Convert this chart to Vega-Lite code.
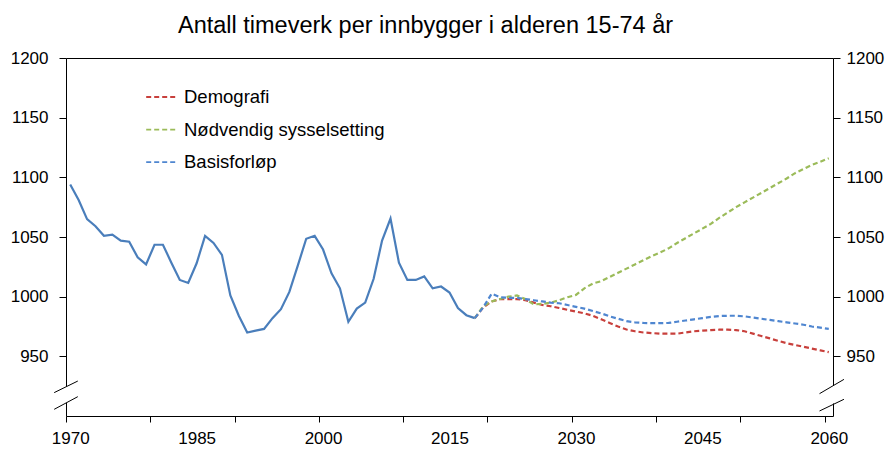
{
  "$schema": "https://vega.github.io/schema/vega-lite/v6.json",
  "width": 767,
  "height": 358,
  "autosize": "none",
  "padding": {"left": 66, "top": 58, "right": 60, "bottom": 34},
  "background": "white",
  "config": {
    "font": "Liberation Sans",
    "view": {"stroke": null},
    "axis": {"grid": false, "title": null, "domainColor": "black", "tickColor": "black", "labelColor": "black", "labelFont": "Liberation Sans", "labelFontSize": 17, "domainWidth": 1, "tickWidth": 1}
  },
  "title": {
    "text": "Antall timeverk per innbygger i alderen 15-74 år",
    "font": "Liberation Sans",
    "fontSize": 23.5,
    "fontWeight": "normal",
    "color": "black",
    "anchor": "middle",
    "frame": "group",
    "baseline": "alphabetic",
    "offset": 24,
    "dx": -24,
    "dy": 31
  },
  "datasets": {
    "series": [
      {"year": 1970, "value": 1094, "series": "Historisk"},
      {"year": 1971, "value": 1081, "series": "Historisk"},
      {"year": 1972, "value": 1065, "series": "Historisk"},
      {"year": 1973, "value": 1059, "series": "Historisk"},
      {"year": 1974, "value": 1051, "series": "Historisk"},
      {"year": 1975, "value": 1052, "series": "Historisk"},
      {"year": 1976, "value": 1047, "series": "Historisk"},
      {"year": 1977, "value": 1046, "series": "Historisk"},
      {"year": 1978, "value": 1033, "series": "Historisk"},
      {"year": 1979, "value": 1027, "series": "Historisk"},
      {"year": 1980, "value": 1043.5, "series": "Historisk"},
      {"year": 1981, "value": 1043.5, "series": "Historisk"},
      {"year": 1982, "value": 1028.5, "series": "Historisk"},
      {"year": 1983, "value": 1014, "series": "Historisk"},
      {"year": 1984, "value": 1011.5, "series": "Historisk"},
      {"year": 1985, "value": 1028, "series": "Historisk"},
      {"year": 1986, "value": 1051, "series": "Historisk"},
      {"year": 1987, "value": 1045, "series": "Historisk"},
      {"year": 1988, "value": 1035, "series": "Historisk"},
      {"year": 1989, "value": 1001, "series": "Historisk"},
      {"year": 1990, "value": 984, "series": "Historisk"},
      {"year": 1991, "value": 970, "series": "Historisk"},
      {"year": 1992, "value": 971.5, "series": "Historisk"},
      {"year": 1993, "value": 973, "series": "Historisk"},
      {"year": 1994, "value": 982, "series": "Historisk"},
      {"year": 1995, "value": 989.5, "series": "Historisk"},
      {"year": 1996, "value": 1004, "series": "Historisk"},
      {"year": 1997, "value": 1026, "series": "Historisk"},
      {"year": 1998, "value": 1048.5, "series": "Historisk"},
      {"year": 1999, "value": 1051, "series": "Historisk"},
      {"year": 2000, "value": 1039.5, "series": "Historisk"},
      {"year": 2001, "value": 1019.5, "series": "Historisk"},
      {"year": 2002, "value": 1007, "series": "Historisk"},
      {"year": 2003, "value": 979, "series": "Historisk"},
      {"year": 2004, "value": 990, "series": "Historisk"},
      {"year": 2005, "value": 995, "series": "Historisk"},
      {"year": 2006, "value": 1015, "series": "Historisk"},
      {"year": 2007, "value": 1047, "series": "Historisk"},
      {"year": 2008, "value": 1065.5, "series": "Historisk"},
      {"year": 2009, "value": 1028.5, "series": "Historisk"},
      {"year": 2010, "value": 1014, "series": "Historisk"},
      {"year": 2011, "value": 1014, "series": "Historisk"},
      {"year": 2012, "value": 1017, "series": "Historisk"},
      {"year": 2013, "value": 1007, "series": "Historisk"},
      {"year": 2014, "value": 1008.5, "series": "Historisk"},
      {"year": 2015, "value": 1003.5, "series": "Historisk"},
      {"year": 2016, "value": 990.5, "series": "Historisk"},
      {"year": 2017, "value": 984.5, "series": "Historisk"},
      {"year": 2018, "value": 982, "series": "Historisk"},

      {"year": 2018, "value": 982, "series": "Demografi"},
      {"year": 2019, "value": 991, "series": "Demografi"},
      {"year": 2020, "value": 996, "series": "Demografi"},
      {"year": 2021, "value": 998, "series": "Demografi"},
      {"year": 2022, "value": 998, "series": "Demografi"},
      {"year": 2023, "value": 998, "series": "Demografi"},
      {"year": 2024, "value": 997, "series": "Demografi"},
      {"year": 2025, "value": 995, "series": "Demografi"},
      {"year": 2026, "value": 993, "series": "Demografi"},
      {"year": 2027, "value": 992, "series": "Demografi"},
      {"year": 2028, "value": 990.5, "series": "Demografi"},
      {"year": 2029, "value": 989, "series": "Demografi"},
      {"year": 2030, "value": 987.5, "series": "Demografi"},
      {"year": 2031, "value": 986, "series": "Demografi"},
      {"year": 2032, "value": 984, "series": "Demografi"},
      {"year": 2033, "value": 981, "series": "Demografi"},
      {"year": 2034, "value": 978, "series": "Demografi"},
      {"year": 2035, "value": 975, "series": "Demografi"},
      {"year": 2036, "value": 972.5, "series": "Demografi"},
      {"year": 2037, "value": 971, "series": "Demografi"},
      {"year": 2038, "value": 970, "series": "Demografi"},
      {"year": 2039, "value": 969.5, "series": "Demografi"},
      {"year": 2040, "value": 969, "series": "Demografi"},
      {"year": 2041, "value": 969, "series": "Demografi"},
      {"year": 2042, "value": 969, "series": "Demografi"},
      {"year": 2043, "value": 970, "series": "Demografi"},
      {"year": 2044, "value": 971, "series": "Demografi"},
      {"year": 2045, "value": 971.5, "series": "Demografi"},
      {"year": 2046, "value": 972, "series": "Demografi"},
      {"year": 2047, "value": 972.3, "series": "Demografi"},
      {"year": 2048, "value": 972.3, "series": "Demografi"},
      {"year": 2049, "value": 972, "series": "Demografi"},
      {"year": 2050, "value": 971, "series": "Demografi"},
      {"year": 2051, "value": 969, "series": "Demografi"},
      {"year": 2052, "value": 967, "series": "Demografi"},
      {"year": 2053, "value": 965, "series": "Demografi"},
      {"year": 2054, "value": 963, "series": "Demografi"},
      {"year": 2055, "value": 961, "series": "Demografi"},
      {"year": 2056, "value": 959.5, "series": "Demografi"},
      {"year": 2057, "value": 958, "series": "Demografi"},
      {"year": 2058, "value": 956.5, "series": "Demografi"},
      {"year": 2059, "value": 955, "series": "Demografi"},
      {"year": 2060, "value": 953.5, "series": "Demografi"},

      {"year": 2018, "value": 982, "series": "Nødvendig sysselsetting"},
      {"year": 2019, "value": 992, "series": "Nødvendig sysselsetting"},
      {"year": 2020, "value": 996, "series": "Nødvendig sysselsetting"},
      {"year": 2021, "value": 998, "series": "Nødvendig sysselsetting"},
      {"year": 2022, "value": 1000, "series": "Nødvendig sysselsetting"},
      {"year": 2023, "value": 1001, "series": "Nødvendig sysselsetting"},
      {"year": 2024, "value": 998, "series": "Nødvendig sysselsetting"},
      {"year": 2025, "value": 993.5, "series": "Nødvendig sysselsetting"},
      {"year": 2026, "value": 994, "series": "Nødvendig sysselsetting"},
      {"year": 2027, "value": 995, "series": "Nødvendig sysselsetting"},
      {"year": 2028, "value": 997, "series": "Nødvendig sysselsetting"},
      {"year": 2029, "value": 999.5, "series": "Nødvendig sysselsetting"},
      {"year": 2030, "value": 1001.5, "series": "Nødvendig sysselsetting"},
      {"year": 2031, "value": 1007, "series": "Nødvendig sysselsetting"},
      {"year": 2032, "value": 1011, "series": "Nødvendig sysselsetting"},
      {"year": 2033, "value": 1013, "series": "Nødvendig sysselsetting"},
      {"year": 2034, "value": 1016.5, "series": "Nødvendig sysselsetting"},
      {"year": 2035, "value": 1020, "series": "Nødvendig sysselsetting"},
      {"year": 2036, "value": 1023.5, "series": "Nødvendig sysselsetting"},
      {"year": 2037, "value": 1027, "series": "Nødvendig sysselsetting"},
      {"year": 2038, "value": 1030.5, "series": "Nødvendig sysselsetting"},
      {"year": 2039, "value": 1034, "series": "Nødvendig sysselsetting"},
      {"year": 2040, "value": 1037, "series": "Nødvendig sysselsetting"},
      {"year": 2041, "value": 1040.5, "series": "Nødvendig sysselsetting"},
      {"year": 2042, "value": 1045, "series": "Nødvendig sysselsetting"},
      {"year": 2043, "value": 1049, "series": "Nødvendig sysselsetting"},
      {"year": 2044, "value": 1053, "series": "Nødvendig sysselsetting"},
      {"year": 2045, "value": 1057, "series": "Nødvendig sysselsetting"},
      {"year": 2046, "value": 1061, "series": "Nødvendig sysselsetting"},
      {"year": 2047, "value": 1066, "series": "Nødvendig sysselsetting"},
      {"year": 2048, "value": 1070.5, "series": "Nødvendig sysselsetting"},
      {"year": 2049, "value": 1075, "series": "Nødvendig sysselsetting"},
      {"year": 2050, "value": 1079, "series": "Nødvendig sysselsetting"},
      {"year": 2051, "value": 1083, "series": "Nødvendig sysselsetting"},
      {"year": 2052, "value": 1087, "series": "Nødvendig sysselsetting"},
      {"year": 2053, "value": 1091, "series": "Nødvendig sysselsetting"},
      {"year": 2054, "value": 1095, "series": "Nødvendig sysselsetting"},
      {"year": 2055, "value": 1099, "series": "Nødvendig sysselsetting"},
      {"year": 2056, "value": 1103.5, "series": "Nødvendig sysselsetting"},
      {"year": 2057, "value": 1107, "series": "Nødvendig sysselsetting"},
      {"year": 2058, "value": 1110.5, "series": "Nødvendig sysselsetting"},
      {"year": 2059, "value": 1113, "series": "Nødvendig sysselsetting"},
      {"year": 2060, "value": 1116, "series": "Nødvendig sysselsetting"},

      {"year": 2018, "value": 982, "series": "Basisforløp"},
      {"year": 2019, "value": 991, "series": "Basisforløp"},
      {"year": 2020, "value": 1002.5, "series": "Basisforløp"},
      {"year": 2021, "value": 999.5, "series": "Basisforløp"},
      {"year": 2022, "value": 999, "series": "Basisforløp"},
      {"year": 2023, "value": 999, "series": "Basisforløp"},
      {"year": 2024, "value": 998, "series": "Basisforløp"},
      {"year": 2025, "value": 997, "series": "Basisforløp"},
      {"year": 2026, "value": 996, "series": "Basisforløp"},
      {"year": 2027, "value": 995, "series": "Basisforløp"},
      {"year": 2028, "value": 994.5, "series": "Basisforløp"},
      {"year": 2029, "value": 993, "series": "Basisforløp"},
      {"year": 2030, "value": 991.5, "series": "Basisforløp"},
      {"year": 2031, "value": 990, "series": "Basisforløp"},
      {"year": 2032, "value": 988, "series": "Basisforløp"},
      {"year": 2033, "value": 986, "series": "Basisforløp"},
      {"year": 2034, "value": 983.5, "series": "Basisforløp"},
      {"year": 2035, "value": 981.5, "series": "Basisforløp"},
      {"year": 2036, "value": 979.5, "series": "Basisforløp"},
      {"year": 2037, "value": 978.5, "series": "Basisforløp"},
      {"year": 2038, "value": 978, "series": "Basisforløp"},
      {"year": 2039, "value": 977.8, "series": "Basisforløp"},
      {"year": 2040, "value": 977.8, "series": "Basisforløp"},
      {"year": 2041, "value": 978, "series": "Basisforløp"},
      {"year": 2042, "value": 979, "series": "Basisforløp"},
      {"year": 2043, "value": 980, "series": "Basisforløp"},
      {"year": 2044, "value": 981, "series": "Basisforløp"},
      {"year": 2045, "value": 982, "series": "Basisforløp"},
      {"year": 2046, "value": 983, "series": "Basisforløp"},
      {"year": 2047, "value": 983.8, "series": "Basisforløp"},
      {"year": 2048, "value": 984, "series": "Basisforløp"},
      {"year": 2049, "value": 984, "series": "Basisforløp"},
      {"year": 2050, "value": 983.5, "series": "Basisforløp"},
      {"year": 2051, "value": 982.5, "series": "Basisforløp"},
      {"year": 2052, "value": 981.5, "series": "Basisforløp"},
      {"year": 2053, "value": 980.5, "series": "Basisforløp"},
      {"year": 2054, "value": 979.5, "series": "Basisforløp"},
      {"year": 2055, "value": 978.5, "series": "Basisforløp"},
      {"year": 2056, "value": 977.5, "series": "Basisforløp"},
      {"year": 2057, "value": 976.5, "series": "Basisforløp"},
      {"year": 2058, "value": 975, "series": "Basisforløp"},
      {"year": 2059, "value": 974, "series": "Basisforløp"},
      {"year": 2060, "value": 973, "series": "Basisforløp"}
    ]
  },
  "resolve": {"axis": {"x": "independent", "y": "independent"}},
  "layer": [
    {
      "data": {"name": "series"},
      "transform": [{"filter": "datum.series === 'Historisk'"}],
      "mark": {"type": "line", "color": "#4A7EBB", "strokeWidth": 2.2},
      "encoding": {
        "x": {
          "field": "year", "type": "quantitative",
          "scale": {"domain": [1969.5, 2060.5], "nice": false, "zero": false},
          "axis": {
            "orient": "bottom",
            "values": [1969.5, 1970, 1979.5, 1985, 1989.5, 1999.5, 2000, 2009.5, 2015, 2019.5, 2029.5, 2030, 2039.5, 2045, 2049.5, 2059.5, 2060],
            "format": "d",
            "labelExpr": "datum.value % 15 === 5 ? datum.label : ''",
            "tickOpacity": {"condition": {"test": "datum.value % 1 !== 0", "value": 1}, "value": 0},
            "tickSize": 6,
            "labelPadding": 8,
            "labelOverlap": false,
            "labelFlush": false,
            "labelBound": false
          }
        },
        "y": {
          "field": "value", "type": "quantitative",
          "scale": {"domain": [900, 1200], "nice": false, "zero": false},
          "axis": {"orient": "left", "values": [950, 1000, 1050, 1100, 1150, 1200], "format": "d", "tickSize": 7, "labelPadding": 11, "labelOverlap": false}
        }
      }
    },
    {
      "data": {"name": "series"},
      "transform": [{"filter": "datum.series !== 'Historisk'"}],
      "mark": {"type": "line", "strokeWidth": 2.2, "strokeDash": [5, 3]},
      "encoding": {
        "x": {
          "field": "year", "type": "quantitative",
          "axis": {"orient": "top", "ticks": false, "labels": false, "domain": true}
        },
        "y": {
          "field": "value", "type": "quantitative",
          "axis": {"orient": "right", "values": [950, 1000, 1050, 1100, 1150, 1200], "format": "d", "tickSize": 7, "labelPadding": 6, "labelOverlap": false}
        },
        "color": {
          "field": "series", "type": "nominal",
          "scale": {"domain": ["Demografi", "Nødvendig sysselsetting", "Basisforløp"], "range": ["#C8403C", "#9BBB59", "#4F86D0"]},
          "legend": {
            "orient": "none", "legendX": 79, "legendY": 22, "title": null,
            "symbolType": "stroke", "symbolSize": 1000, "symbolStrokeWidth": 1.8, "symbolDash": [5, 3],
            "labelFont": "Liberation Sans", "labelFontSize": 18.5, "labelColor": "black", "labelOffset": 5,
            "rowPadding": 5.6, "padding": 0, "labelLimit": 400
          }
        }
      }
    },
    {
      "data": {"values": [{}]},
      "mark": {"type": "rule", "color": "white", "strokeWidth": 3},
      "encoding": {
        "x": {"datum": 1969.5, "type": "quantitative", "axis": null},
        "y": {"datum": 911, "type": "quantitative", "axis": null},
        "y2": {"datum": 924.8}
      }
    },
    {
      "data": {"values": [{}]},
      "mark": {"type": "rule", "color": "white", "strokeWidth": 3},
      "encoding": {
        "x": {"datum": 2060.5, "type": "quantitative", "axis": null},
        "y": {"datum": 910.5, "type": "quantitative", "axis": null},
        "y2": {"datum": 925.3}
      }
    },
    {
      "data": {"values": [{}]},
      "mark": {"type": "rule", "color": "black", "strokeWidth": 1},
      "encoding": {
        "x": {"datum": 1968.1, "type": "quantitative", "axis": null},
        "x2": {"datum": 1970.9},
        "y": {"datum": 919.6, "type": "quantitative", "axis": null},
        "y2": {"datum": 929.3}
      }
    },
    {
      "data": {"values": [{}]},
      "mark": {"type": "rule", "color": "black", "strokeWidth": 1},
      "encoding": {
        "x": {"datum": 1968.1, "type": "quantitative", "axis": null},
        "x2": {"datum": 1970.9},
        "y": {"datum": 905.6, "type": "quantitative", "axis": null},
        "y2": {"datum": 916.2}
      }
    },
    {
      "data": {"values": [{}]},
      "mark": {"type": "rule", "color": "black", "strokeWidth": 1},
      "encoding": {
        "x": {"datum": 2058.9, "type": "quantitative", "axis": null},
        "x2": {"datum": 2061.8},
        "y": {"datum": 918.7, "type": "quantitative", "axis": null},
        "y2": {"datum": 930.7}
      }
    },
    {
      "data": {"values": [{}]},
      "mark": {"type": "rule", "color": "black", "strokeWidth": 1},
      "encoding": {
        "x": {"datum": 2058.9, "type": "quantitative", "axis": null},
        "x2": {"datum": 2061.8},
        "y": {"datum": 904.2, "type": "quantitative", "axis": null},
        "y2": {"datum": 914}
      }
    }
  ]
}
